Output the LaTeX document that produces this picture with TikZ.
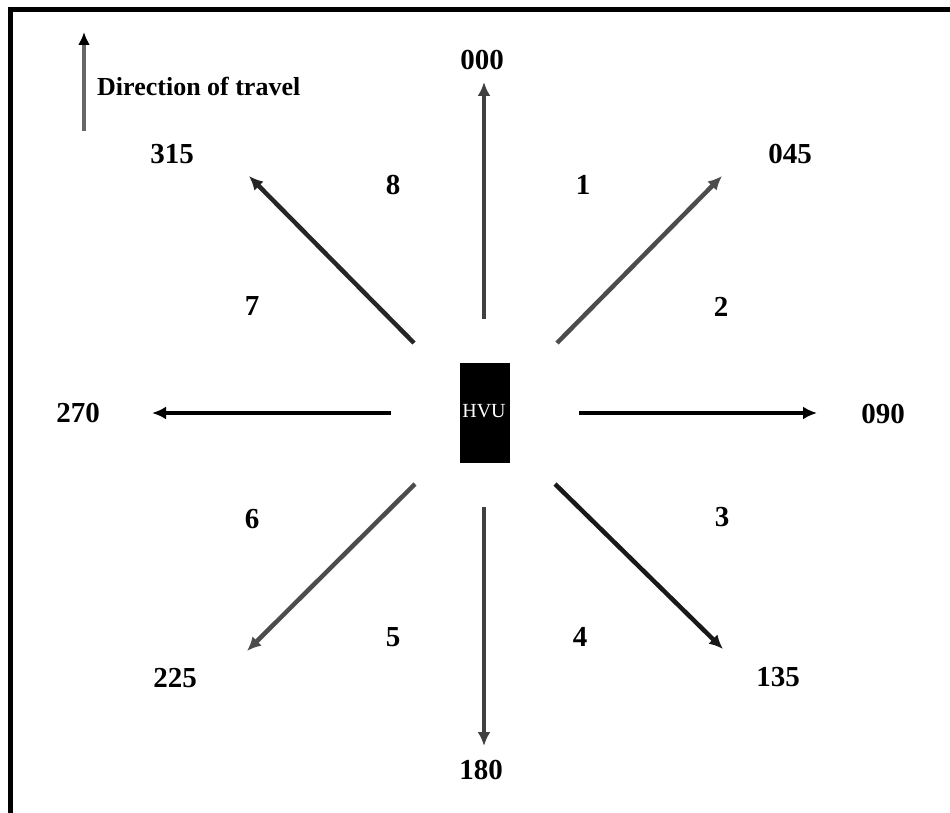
\documentclass[tikz,border=0pt]{standalone}
\usepackage{fontspec}
\setmainfont{Liberation Serif}
\usetikzlibrary{arrows.meta}
\begin{document}
\begin{tikzpicture}[x=1pt,y=-1pt,
  lbl/.style={font=\fontsize{29}{29}\selectfont\bfseries, inner sep=0pt},
  arr/.style={line width=4.5pt, -{Latex[length=14pt,width=13pt]}},
  frame/.style={line width=5pt, black}]
\useasboundingbox (0,0) rectangle (950,813);
% frame (open at right and bottom)
\draw[frame] (8,9.5) -- (950,9.5);
\draw[frame] (10,7) -- (10,813);
% legend
\coordinate (legT) at (84,131);
\coordinate (legH) at (84,32);
\draw[line width=3.5pt, black!60, -{Latex[length=13pt,width=12pt,fill=black,color=black]}] (legT) -- (legH);
\node[font=\fontsize{26}{26}\selectfont\bfseries, anchor=west, inner sep=0pt] (leg) at (97,86) {Direction of travel};
% HVU box
\node[fill=black, minimum width=50pt, minimum height=100pt, inner sep=0pt] (hvu) at (484.5,413) {};
\node[font=\fontsize{20}{20}\selectfont, text=white, inner sep=0pt] (hvutext) at (484,411) {HVU};
% arrow endpoints
\coordinate (nS) at (484,319);   \coordinate (nE) at (484,82);
\coordinate (neS) at (557,343);  \coordinate (neE) at (722,176);
\coordinate (eS) at (579,413);   \coordinate (eE) at (817,413);
\coordinate (seS) at (555,484);  \coordinate (seE) at (723,649);
\coordinate (sS) at (484,507);   \coordinate (sE) at (484,746);
\coordinate (swS) at (415,484);  \coordinate (swE) at (247,651);
\coordinate (wS) at (391,413);   \coordinate (wE) at (152,413);
\coordinate (nwS) at (414,343);  \coordinate (nwE) at (249,176);
\draw[arr, black!75] (nS) -- (nE);
\draw[arr, black!70] (neS) -- (neE);
\draw[arr, black] (eS) -- (eE);
\draw[arr, black!90] (seS) -- (seE);
\draw[arr, black!75] (sS) -- (sE);
\draw[arr, black!70] (swS) -- (swE);
\draw[arr, black] (wS) -- (wE);
\draw[arr, black!85] (nwS) -- (nwE);
% bearing labels
\node[lbl] (b000) at (482,60) {000};
\node[lbl] (b045) at (790,154) {045};
\node[lbl] (b090) at (883,414) {090};
\node[lbl] (b135) at (778,677) {135};
\node[lbl] (b180) at (481,770) {180};
\node[lbl] (b225) at (175,678) {225};
\node[lbl] (b270) at (78,413) {270};
\node[lbl] (b315) at (172,154) {315};
% sector numbers
\node[lbl] (s1) at (583,185) {1};
\node[lbl] (s2) at (721,307) {2};
\node[lbl] (s3) at (722,517) {3};
\node[lbl] (s4) at (580,637) {4};
\node[lbl] (s5) at (393,637) {5};
\node[lbl] (s6) at (252,519) {6};
\node[lbl] (s7) at (252,306) {7};
\node[lbl] (s8) at (393,185) {8};
\end{tikzpicture}
\end{document}
